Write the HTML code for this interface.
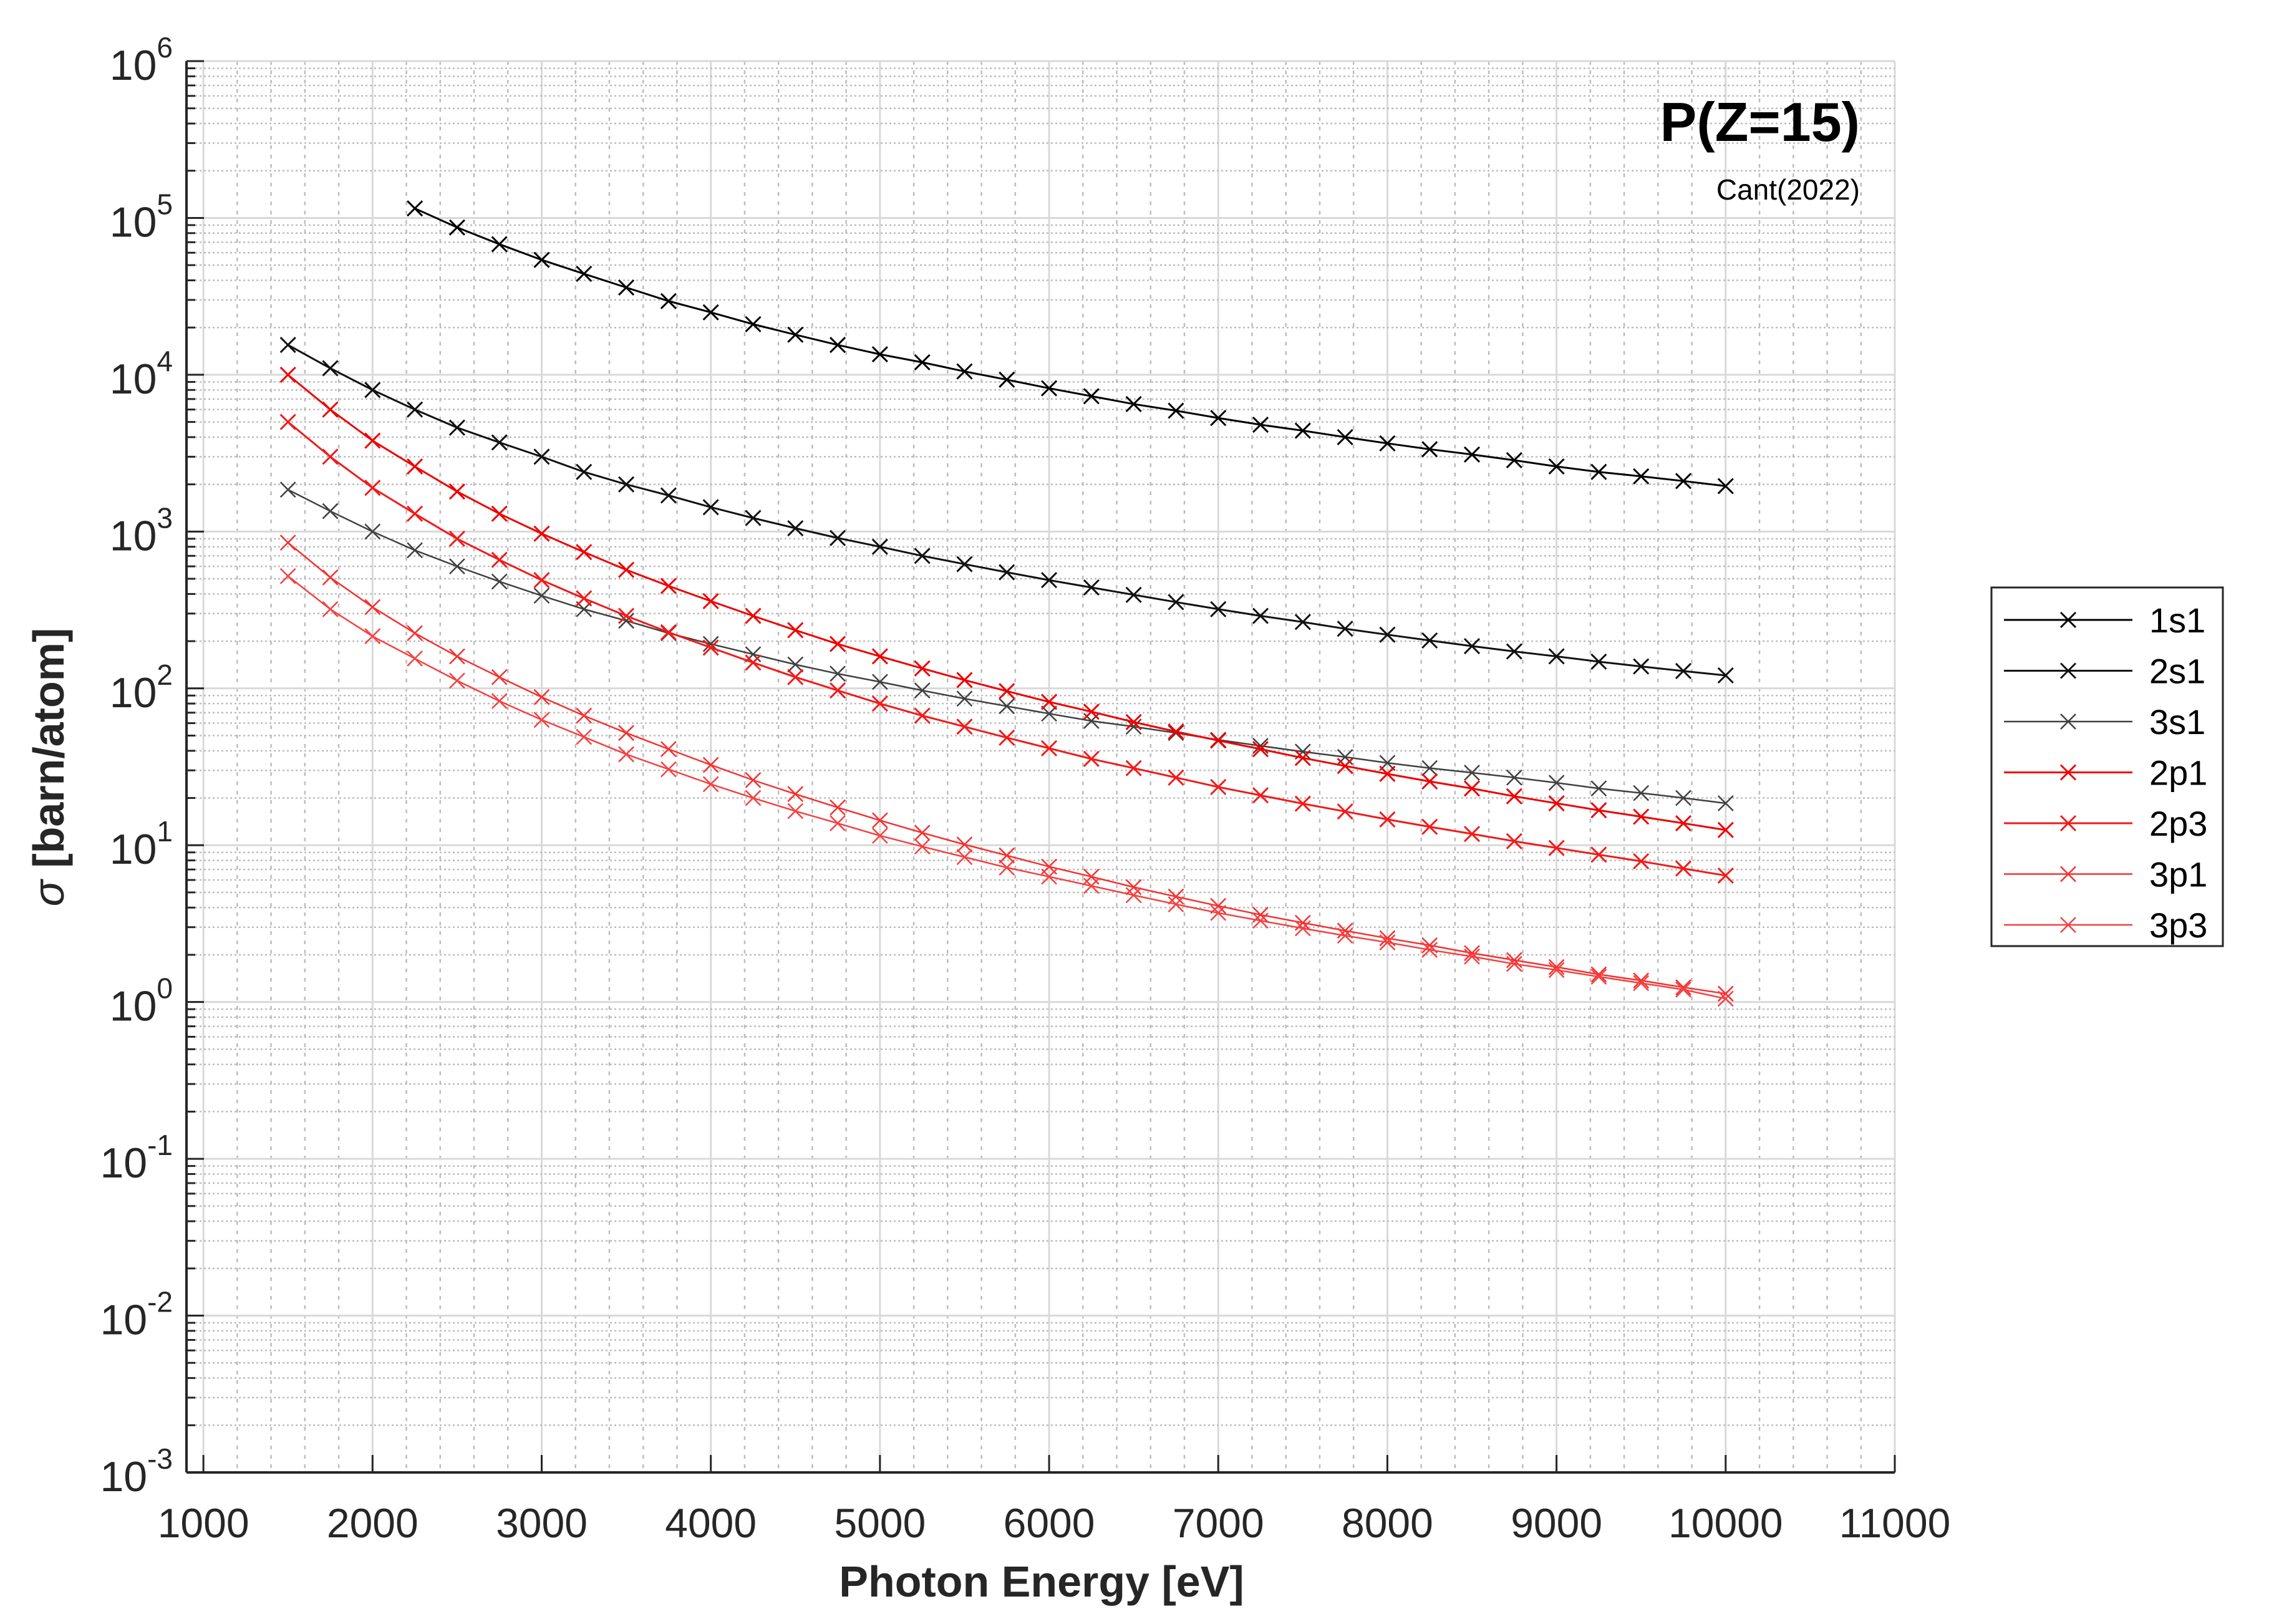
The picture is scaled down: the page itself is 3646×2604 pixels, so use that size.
<!DOCTYPE html>
<html><head><meta charset="utf-8"><style>
html,body{margin:0;padding:0;background:#fff;}
svg{display:block;font-family:"Liberation Sans",Arial,sans-serif;}
</style></head><body>
<svg id="chart" width="3646" height="2604" viewBox="0 0 3646 2604" xmlns="http://www.w3.org/2000/svg">
<rect width="3646" height="2604" fill="#fff"/>
<g id="grid"></g>
<g id="series"></g>
<g id="axes"></g>
<text x="2982" y="226" text-anchor="end" font-size="88" font-weight="bold" fill="#000">P(Z=15)</text>
<text x="2982" y="320" text-anchor="end" font-size="46" fill="#000">Cant(2022)</text>
<text x="1670" y="2560" text-anchor="middle" font-size="70" font-weight="bold" fill="#262626">Photon Energy [eV]</text>
<text transform="translate(102,1230) rotate(-90)" text-anchor="middle" font-size="70" font-weight="bold" fill="#262626"><tspan font-style="italic" font-weight="normal">σ</tspan> [barn/atom]</text>
<g id="legend"></g>
</svg>
<script>
const energies=[1500,1750,2000,2250,2500,2750,3000,3250,3500,3750,4000,4250,4500,4750,5000,5250,5500,5750,6000,6250,6500,6750,7000,7250,7500,7750,8000,8250,8500,8750,9000,9250,9500,9750,10000];
const seriesNames=["1s1","2s1","3s1","2p1","2p3","3p1","3p3"];
const s1s1=[null,null,null,115000,87000,68000,54000,44000,36000,29500,25000,21000,18000,15500,13500,12000,10500,9300,8200,7300,6500,5900,5300,4800,4400,4000,3650,3350,3100,2850,2600,2400,2250,2100,1950];
const s2s1=[15500,11000,8000,6000,4600,3700,3000,2400,2000,1700,1430,1220,1050,910,800,700,620,550,490,440,395,355,320,290,265,240,220,202,186,172,160,148,138,129,121];
const s3s1=[1850,1350,1000,760,600,480,390,320,270,225,192,165,142,124,110,97,86,77,69,62,57,52,47,43,39.5,36.5,33.5,31,29,27,25,23,21.5,20,18.5];
const s2p1=[10000,6000,3800,2600,1800,1300,970,740,570,450,360,290,235,192,160,134,113,96,82,71,61,53,46.5,41,36,32,28.5,25.5,23,20.5,18.5,16.7,15.2,13.8,12.5];
const s2p3=[5000,3000,1900,1300,900,660,490,375,290,228,182,146,118,97,80,67,57,48.5,41.5,35.5,31,27,23.5,20.8,18.4,16.4,14.6,13.1,11.8,10.6,9.6,8.7,7.9,7.1,6.4];
const s3p1=[850,510,330,225,160,118,88,67,52,41,32.5,26,21.2,17.4,14.4,12,10.1,8.6,7.3,6.3,5.4,4.7,4.1,3.6,3.2,2.85,2.55,2.3,2.05,1.85,1.67,1.5,1.37,1.24,1.13];
const s3p3=[520,320,215,155,112,83,63,49,38,30.5,24.5,20,16.5,13.8,11.5,9.8,8.4,7.2,6.3,5.5,4.8,4.2,3.7,3.3,2.95,2.65,2.4,2.15,1.95,1.75,1.6,1.45,1.32,1.2,1.05];
const xTicks=[1000,2000,3000,4000,5000,6000,7000,8000,9000,10000,11000];
const yExps=[6,5,4,3,2,1,0,-1,-2,-3];

const NS="http://www.w3.org/2000/svg";
const X0=299,X1=3038,XMIN=900,XMAX=11000;
const Y0=98,Y1=2361,EMAX=6,EMIN=-3;
function xs(v){return X0+(v-XMIN)/(XMAX-XMIN)*(X1-X0);}
function ys(v){return Y0+(EMAX-Math.log10(v))/(EMAX-EMIN)*(Y1-Y0);}
function mk(tag,attrs,parent){const e=document.createElementNS(NS,tag);for(const k in attrs)e.setAttribute(k,attrs[k]);parent.appendChild(e);return e;}
const grid=document.getElementById('grid'),axes=document.getElementById('axes'),ser=document.getElementById('series'),leg=document.getElementById('legend');

for(let v=1000;v<=XMAX;v+=200){
  const major=(v%1000===0);
  const l=mk('line',{x1:xs(v),x2:xs(v),y1:Y0,y2:Y1,stroke:major?'#d9d9d9':'#bdbdbd','stroke-width':major?3:2.5,'stroke-dasharray':major?'':'6 9'},grid);
  
  
}
for(let e=EMIN;e<=EMAX;e++){
  const l=mk('line',{x1:X0,x2:X1,y1:ys(Math.pow(10,e)),y2:ys(Math.pow(10,e)),stroke:'#d9d9d9','stroke-width':3},grid);
  
  
  if(e<EMAX){for(let m=2;m<=9;m++){const y=ys(m*Math.pow(10,e));
    const g=mk('line',{x1:X0,x2:X1,y1:y,y2:y,stroke:'#bdbdbd','stroke-width':2.5,'stroke-dasharray':'3 4'},grid);
    
    
    const t=mk('line',{x1:X0,x2:X0+14,y1:y,y2:y,stroke:'#262626','stroke-width':3},axes);
    
    
  }}
}
const ax1=mk('line',{x1:X0,x2:X0,y1:Y0,y2:Y1,stroke:'#262626','stroke-width':4},axes);

const ax2=mk('line',{x1:X0,x2:X1,y1:Y1,y2:Y1,stroke:'#262626','stroke-width':4},axes);

xTicks.forEach(v=>{
  const t=mk('line',{x1:xs(v),x2:xs(v),y1:Y1,y2:Y1-28,stroke:'#262626','stroke-width':3},axes);
  
  
  const tx=mk('text',{x:xs(v),y:Y1+104,'text-anchor':'middle','font-size':66,fill:'#262626'},axes);
  tx.textContent=v;
  
  
});
yExps.forEach(e=>{
  const y=ys(Math.pow(10,e));
  const t=mk('line',{x1:X0,x2:X0+28,y1:y,y2:y,stroke:'#262626','stroke-width':3},axes);
  
  
  const tx=mk('text',{x:X0-22,y:y+30,'text-anchor':'end','font-size':68,fill:'#262626'},axes);
  
  
  const a=mk('tspan',{},tx);a.textContent='10';
  const b=mk('tspan',{dy:-36,'font-size':46},tx);b.textContent=String(e);
});
const seriesData=[s1s1,s2s1,s3s1,s2p1,s2p3,s3p1,s3p3];
const colors=['#000000','#111111','#404040','#ee0000','#f21a1a','#f53030','#f54040'];
const widths=[3,3,2.5,3,3,2.5,2.5];
function marker(x,y,c,w,p){const s=12;
  return mk('path',{d:`M${x-s},${y-s}L${x+s},${y+s}M${x-s},${y+s}L${x+s},${y-s}`,stroke:c,'stroke-width':w,fill:'none'},p);}
seriesData.forEach((d,i)=>{
  const g=mk('g',{},ser);
  
  
  let pts=[];
  d.forEach((v,j)=>{if(v!=null)pts.push([xs(energies[j]),ys(v)]);});
  const pl=mk('polyline',{points:pts.map(p=>p.join(',')).join(' '),fill:'none',stroke:colors[i],'stroke-width':widths[i]},g);
  
  
  pts.forEach(p=>{const m=marker(p[0],p[1],colors[i],widths[i],g);
    
    });
});
const LX=3193;
const box=mk('rect',{x:LX,y:942,width:371,height:575,fill:'#fff',stroke:'#262626','stroke-width':3},leg);


seriesNames.forEach((n,i)=>{
  const y=994+i*81.5;
  const g=mk('g',{},leg);
  
  
  mk('line',{x1:LX+20,x2:LX+226,y1:y,y2:y,stroke:colors[i],'stroke-width':widths[i]},g);
  marker(LX+123,y,colors[i],widths[i],g);
  const t=mk('text',{x:LX+253,y:y+20,'font-size':56,fill:'#000'},g);
  t.textContent=n;
});
</script>
</body></html>
